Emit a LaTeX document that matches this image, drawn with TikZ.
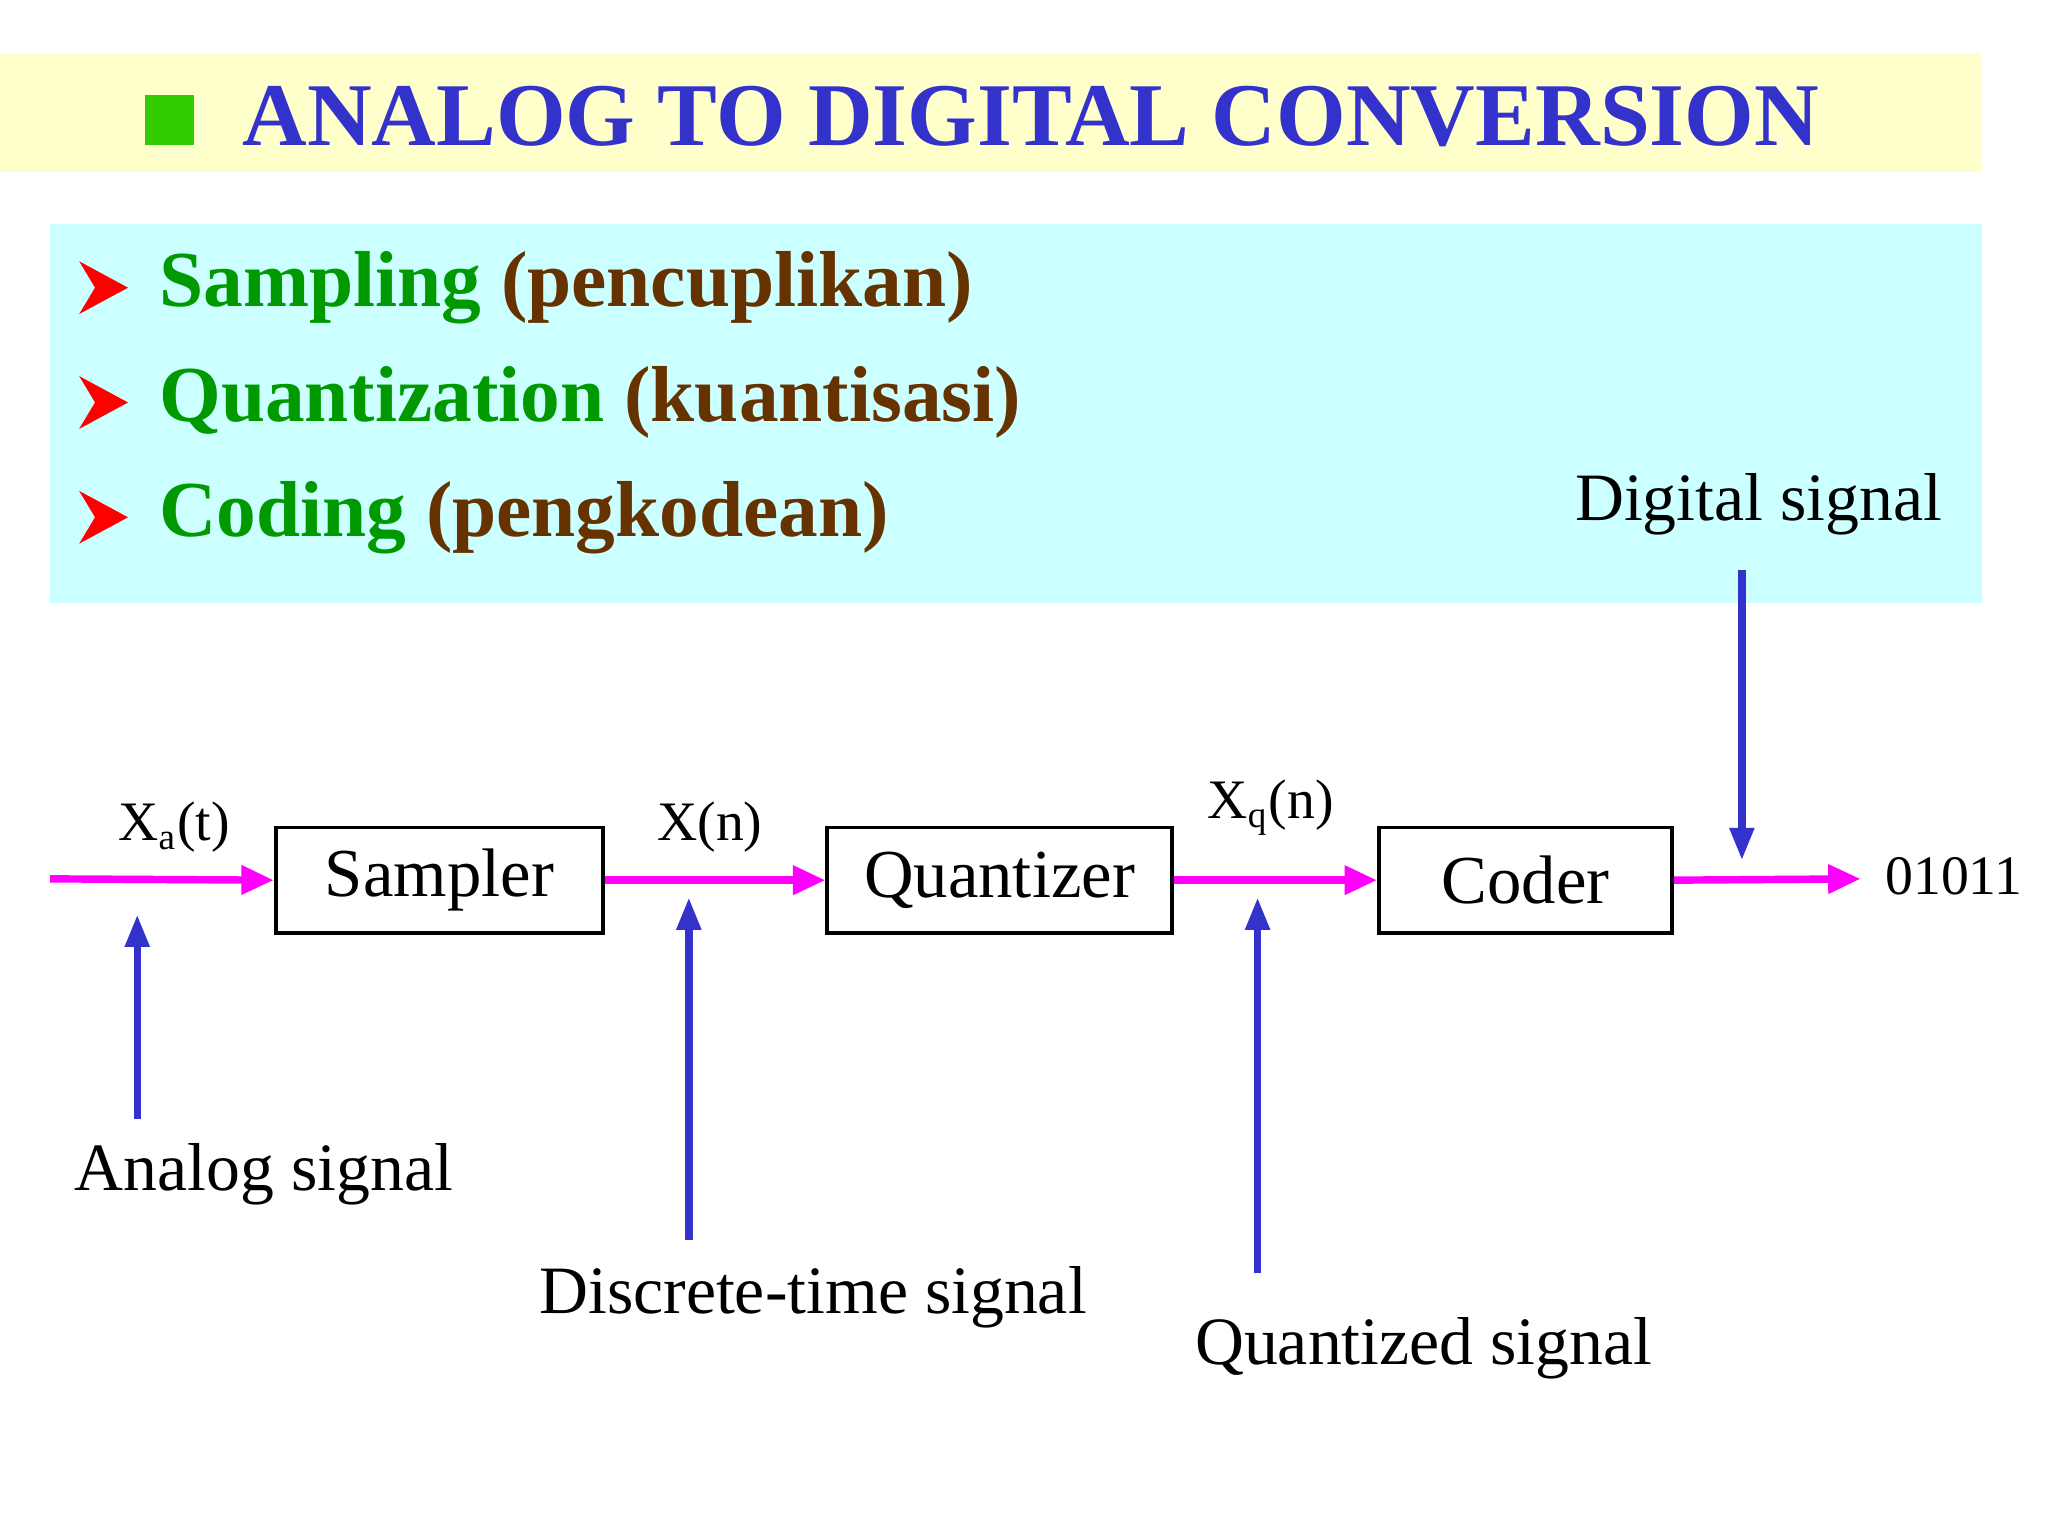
\documentclass[tikz,border=0pt]{standalone}
\usepackage{fontspec}
\setmainfont{Liberation Serif}
\usetikzlibrary{arrows.meta}
\definecolor{ttlblue}{HTML}{3333CC}
\definecolor{yel}{HTML}{FFFFCC}
\definecolor{cyn}{HTML}{CCFFFF}
\definecolor{grn}{HTML}{009900}
\definecolor{brn}{HTML}{663300}
\definecolor{sqgrn}{HTML}{33CC00}
\definecolor{mag}{HTML}{FF00FF}
\tikzset{
  blk/.style={draw, line width=0.8pt, minimum height=0.8cm, inner sep=0pt, font=\fontsize{14.8}{17}\selectfont},
  sig/.style={mag, line width=1.6pt, -{Triangle[length=7pt,width=6pt]}},
  ptr/.style={ttlblue, line width=1.6pt, -{Triangle[length=7pt,width=5pt]}},
  lbl/.style={font=\fontsize{14.6}{17}\selectfont, inner sep=0pt},
  sml/.style={font=\fontsize{12}{14}\selectfont, inner sep=0pt},
  bul/.style={anchor=west, inner sep=0pt, font=\bfseries\fontsize{17.1}{20}\selectfont}
}
\begin{document}
\begin{tikzpicture}[x=0.01cm,y=-0.01cm]
\useasboundingbox (0,0) rectangle (1552,1164);
\fill[white] (0,0) rectangle (1552,1164);
\fill[yel] (0,40) rectangle (1502,130);
\fill[sqgrn] (110,72) rectangle (147,110);
\node[anchor=west, inner sep=0pt, text=ttlblue, font=\bfseries\fontsize{19.3}{22}\selectfont] (title) at (183,88) {ANALOG TO DIGITAL CONVERSION};
\fill[cyn] (38,170) rectangle (1502,457);
\foreach \yy/\a/\b [count=\i] in {218/Sampling/pencuplikan, 305/Quantization/kuantisasi, 392/Coding/pengkodean}{
  \fill[red] (60,\yy-20) -- (97,\yy) -- (60,\yy+20) -- (72,\yy) -- cycle;
  \node[bul] (b\i) at (120,\yy) {\textcolor{grn}{\a} \textcolor{brn}{(\b)}};
}
\node[lbl, anchor=west] (dig) at (1193,382) {Digital signal};
\node[blk, minimum width=2.48cm] (samp) at (333,667) {Sampler};
\node[blk, minimum width=2.61cm] (quan) at (757.5,667) {Quantizer};
\node[blk, minimum width=2.22cm] (cod) at (1156,667) {Coder};
\coordinate (in) at (38,666);
\coordinate (outc) at (1410,666);
\node[sml, anchor=west] (out) at (1428,664) {01011};
\draw[sig] (in) -- (samp.west);
\draw[sig] (samp.east) -- (quan.west);
\draw[sig] (quan.east) -- (cod.west);
\draw[sig] (cod.east) -- (outc);
\node[sml] (xa) at (132,627) {X\textsubscript{a}(t)};
\node[sml] (xn) at (538,627) {X(n)};
\node[sml] (xq) at (963,612) {X\textsubscript{q}(n)};
\node[lbl, anchor=west] (an) at (56,890) {Analog signal};
\node[lbl, anchor=west] (dt) at (408,983) {Discrete-time signal};
\node[lbl, anchor=west] (qs) at (905,1022) {Quantized signal};
\draw[ptr] (104,848) -- (104,693);
\draw[ptr] (522,940) -- (522,680);
\draw[ptr] (953,965) -- (953,680);
\draw[ptr] (1320,432) -- (1320,652);
\end{tikzpicture}
\end{document}
